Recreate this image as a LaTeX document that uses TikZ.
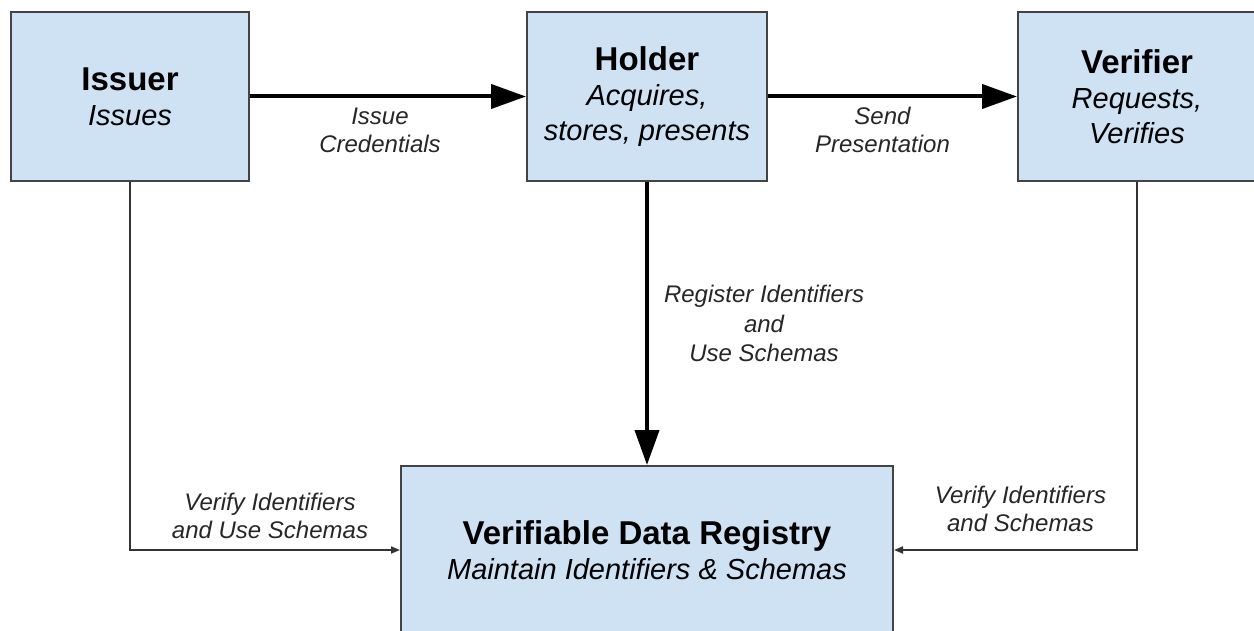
\documentclass[tikz,border=0pt]{standalone}
\usepackage{fontspec}
\setmainfont{Liberation Sans}
\usetikzlibrary{arrows.meta}
\definecolor{boxfill}{HTML}{CFE2F3}
\definecolor{boxline}{HTML}{434343}
\definecolor{thinline}{HTML}{333333}
\definecolor{lbltext}{HTML}{262626}
\tikzset{
  box/.style={draw=boxline, fill=boxfill, line width=2pt, rectangle, align=center,
    inner sep=0pt, minimum height=169pt, font=\fontsize{29}{35}\selectfont\itshape},
  bigarrow/.style={draw=black, line width=4pt, -{Triangle[length=35pt,width=24pt]}},
  thinarrow/.style={draw=thinline, line width=1.8pt, -{Triangle[length=9pt,width=7pt]}},
  lbl/.style={inner sep=0pt, align=center, text=lbltext, font=\fontsize{24}{28}\selectfont\itshape},
}
\newcommand{\ttl}[1]{{\upshape\bfseries\fontsize{33}{35}\selectfont #1}}
\begin{document}
\begin{tikzpicture}[x=1pt, y=-1pt]
\useasboundingbox (0,0) rectangle (1254,631);
\node[box, minimum width=238pt] (issuer) at (130,96.5) {\ttl{Issuer}\\Issues};
\node[box, minimum width=240pt] (holder) at (647,96.5) {\ttl{Holder}\\Acquires,\\stores, presents};
\node[box, minimum width=238pt] (verifier) at (1137,96.5) {\ttl{Verifier}\\Requests,\\Verifies};
\node[box, minimum width=492pt, minimum height=168pt] (registry) at (647,550)
  {\ttl{Verifiable Data Registry}\\Maintain Identifiers \& Schemas};

\draw[bigarrow] (issuer) -- node[lbl, below=9pt, xshift=-8pt] (l1) {Issue\\Credentials} (holder);
\draw[bigarrow] (holder) -- node[lbl, below=9pt, xshift=-10pt] (l2) {Send\\Presentation} (verifier);
\draw[bigarrow] (holder) -- node[lbl, right=15pt, font=\fontsize{24}{29.5}\selectfont\itshape] (l3)
  {Register Identifiers\\and\\Use Schemas} (registry);
\draw[thinarrow] (issuer.south) |- node[lbl, pos=0.75, above=10pt, xshift=5pt] (l4)
  {Verify Identifiers\\and Use Schemas} (registry.west);
\draw[thinarrow] (verifier.south) |- node[lbl, pos=0.75, above=17pt, xshift=5pt] (l5)
  {Verify Identifiers\\and Schemas} (registry.east);
\end{tikzpicture}
\end{document}
